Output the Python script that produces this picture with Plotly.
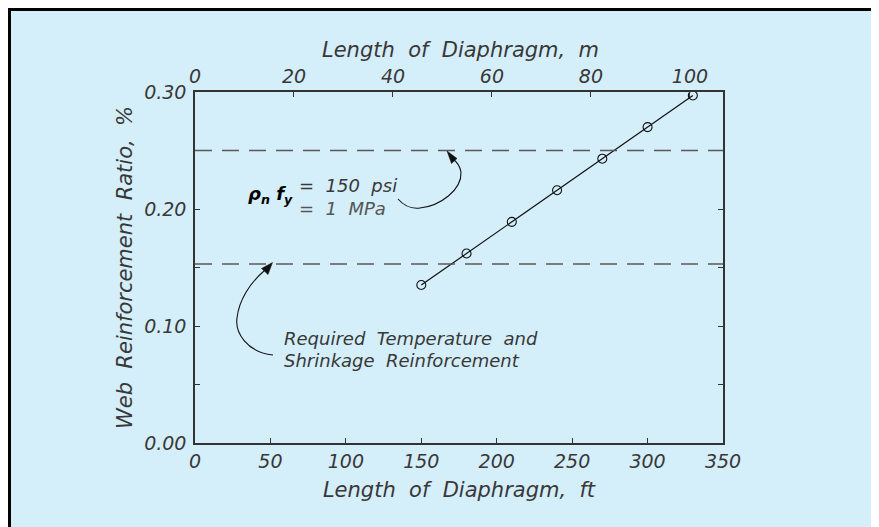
import plotly.graph_objects as go

# ---- data ----
length_ft = [150, 180, 210, 240, 270, 300, 330]
web_ratio = [0.135, 0.162, 0.189, 0.216, 0.243, 0.270, 0.297]
ref_levels = [0.25, 0.153]          # rho_n f_y = 150 psi ; temperature & shrinkage
x_ft_ticks = [0, 50, 100, 150, 200, 250, 300, 350]
x_m_ticks = [0, 20, 40, 60, 80, 100]
y_ticks = [0.00, 0.10, 0.20, 0.30]
FT_TO_M = 0.3048

# ---- geometry (figure pixels; page has an 8px body margin) ----
W, H = 879, 527
OFF = 8
L, T, PW, PH = 187, 84, 528, 351
R, B = W - L - PW, H - T - PH
XMAX, YMAX = 350, 0.30
NB = "\u00a0"

def d(xp, yp):
    """page pixel -> data coordinates (for annotation decorations)"""
    fx, fy = xp - OFF, yp - OFF
    return (fx - L) / PW * XMAX, (T + PH - fy) / PH * YMAX

def pxp(fx, fy):
    """figure pixel -> paper coordinates"""
    return (fx - L) / PW, (T + PH - fy) / PH

def path(cmds):
    out = []
    for c in cmds:
        if isinstance(c, str):
            out.append(c)
        else:
            x, y = d(*c)
            out.append(f"{x:.3f},{y:.5f}")
    return " ".join(out)

def spaced(s):
    return s.replace(" ", NB * 2)

BG = "#D4EEFA"
INK = "#383838"
FONT = dict(family="DejaVu Sans", size=19, color=INK, style="italic")
TFONT = dict(FONT, size=21)

fig = go.Figure()
fig.add_trace(go.Scatter(
    x=length_ft, y=web_ratio, mode="lines+markers",
    line=dict(color="#111", width=1.2),
    marker=dict(symbol="circle-open", size=9, color="#111", line=dict(width=1.1)),
    showlegend=False, hoverinfo="x+y"))
# companion trace on metric axis (invisible) so the top axis is drawn
fig.add_trace(go.Scatter(
    x=[v * FT_TO_M for v in length_ft], y=web_ratio, xaxis="x2", mode="markers",
    marker=dict(opacity=0), showlegend=False, hoverinfo="skip"))

axis_common = dict(showgrid=False, zeroline=False, showline=True, linecolor="#333",
                   linewidth=1.5, ticks="inside", ticklen=5, tickcolor="#333",
                   tickwidth=1.2, tickfont=FONT)

fig.update_layout(
    width=W, height=H, margin=dict(l=L, r=R, t=T, b=B),
    paper_bgcolor=BG, plot_bgcolor=BG, font=FONT, showlegend=False,
    xaxis=dict(range=[0, XMAX], tickvals=x_ft_ticks, **axis_common,
               title=dict(text=spaced("Length of Diaphragm, ft"), font=TFONT, standoff=12)),
    xaxis2=dict(range=[0, XMAX * FT_TO_M], tickvals=x_m_ticks, overlaying="x", side="top",
                anchor="y", **axis_common),
    yaxis=dict(range=[0, YMAX], tickvals=y_ticks, tickformat=".2f", mirror="allticks",
               ticklabelstandoff=3,
               minor=dict(dtick=0.05, ticks="inside", ticklen=5, tickcolor="#333"),
               **axis_common,
               title=dict(text=spaced("Web Reinforcement Ratio, %"), font=TFONT, standoff=6)),
)

# top (metric) axis title
tx, ty = pxp(460 - OFF, 50 - OFF)
fig.add_annotation(x=tx, y=ty, xref="paper", yref="paper", showarrow=False,
                   text=spaced("Length of Diaphragm, m"), font=TFONT,
                   xanchor="center", yanchor="middle")

shapes = []
# reference dashed lines
for lv in ref_levels:
    shapes.append(dict(type="line", xref="x", yref="y", x0=0, x1=XMAX, y0=lv, y1=lv,
                       line=dict(color="#5a5a5a", width=1.3, dash="17px,10px")))
# curved leader for 150 psi
shapes.append(dict(type="path", xref="x", yref="y",
                   path=path(["M", (398, 199), "C", (405, 207), (412, 209), (420, 208),
                              "C", (440, 206), (462, 190), (461, 172),
                              "C", (460, 166), (457, 162), (453, 159)]),
                   line=dict(color="#111", width=1.1)))
shapes.append(dict(type="path", xref="x", yref="y", fillcolor="#111",
                   path=path(["M", (447, 151), "L", (457, 158.5), "L", (451.5, 163.5), "Z"]),
                   line=dict(color="#111", width=0.5)))
# curved leader for temperature & shrinkage
shapes.append(dict(type="path", xref="x", yref="y",
                   path=path(["M", (273, 355), "C", (246, 352), (235, 332), (237, 318),
                              "C", (239, 300), (250, 283), (264, 271)]),
                   line=dict(color="#111", width=1.1)))
shapes.append(dict(type="path", xref="x", yref="y", fillcolor="#111",
                   path=path(["M", (272.5, 262.5), "L", (268, 274.5), "L", (261.5, 268.5), "Z"]),
                   line=dict(color="#111", width=0.5)))
# black rule along the top and left edge of the figure
x0p, ytop = pxp(-2, -2)
x1p, ybot = pxp(W + 2, H + 2)
_, y3 = pxp(0, 3)
x3, _ = pxp(3, 0)
shapes += [
    dict(type="rect", xref="paper", yref="paper", x0=x0p, x1=x1p, y0=y3, y1=ytop,
         fillcolor="black", line=dict(width=0), layer="above"),
    dict(type="rect", xref="paper", yref="paper", x0=x0p, x1=x3, y0=ybot, y1=ytop,
         fillcolor="black", line=dict(width=0), layer="above"),
]
fig.update_layout(shapes=shapes)

def note(text, xp, yp, color=INK, size=18, weight="normal"):
    x, y = d(xp, yp)
    fig.add_annotation(x=x, y=y, xref="x", yref="y", text=text, showarrow=False,
                       xanchor="left", yanchor="middle",
                       font=dict(FONT, size=size, color=color, weight=weight))

note("ρ<sub>n</sub> f<sub>y</sub>", 246, 195, color="#000", weight="bold")
note(spaced("= 150 psi"), 297, 185)
note(spaced("= 1 MPa"), 297, 208, color="#555")
note(spaced("Required Temperature and"), 282, 338)
note(spaced("Shrinkage Reinforcement"), 282, 360)

fig.write_html("out.html")
